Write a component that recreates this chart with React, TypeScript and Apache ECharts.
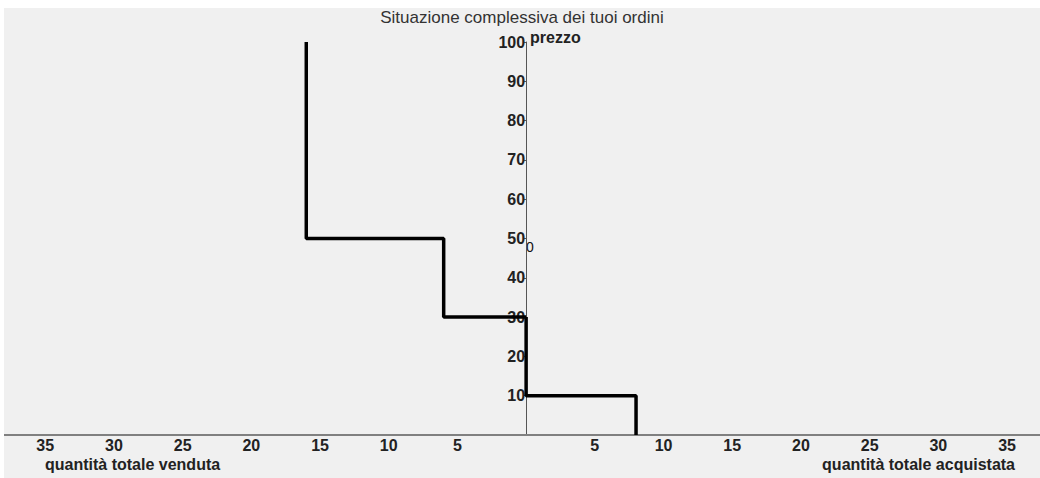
import React, { useEffect, useRef } from "react";
import * as echarts from "echarts";

const sellQuantities = [-16, -16, -6, -6, 0];
const sellPrices = [100, 50, 50, 30, 30];
const buyQuantities = [0, 0, 8, 8];
const buyPrices = [30, 10, 10, 0];
const xTickValues = [-35, -30, -25, -20, -15, -10, -5, 5, 10, 15, 20, 25, 30, 35];
const titleText = "Situazione complessiva dei tuoi ordini";
const yName = "prezzo";
const xNameLeft = "quantità totale venduta";
const xNameRight = "quantità totale acquistata";

const FONT = "'Liberation Sans', Arial, sans-serif";
const X_MIN = -38;
const X_MAX = 37.4;
const CHART_W = 1036;

export default function App() {
  const ref = useRef<HTMLDivElement>(null);
  useEffect(() => {
    if (!ref.current) return;
    const chart = echarts.init(ref.current, null, { renderer: "svg" });
    const sell = sellQuantities.map((q, i) => [q, sellPrices[i]]);
    const buy = buyQuantities.map((q, i) => [q, buyPrices[i]]);
    const zeroOffset = (-X_MIN / (X_MAX - X_MIN)) * CHART_W;
    chart.setOption({
      animation: false,
      backgroundColor: "#f0f0f0",
      grid: { left: 0, right: 0, top: 34, bottom: 43, containLabel: false, outerBoundsMode: "none" },
      xAxis: {
        type: "value",
        min: X_MIN,
        max: X_MAX,
        axisLine: { show: true, onZero: false, lineStyle: { color: "#808080", width: 2 } },
        axisTick: { show: false },
        splitLine: { show: false },
        axisLabel: {
          customValues: xTickValues,
          formatter: (v: number) => String(Math.abs(v)),
          color: "#222",
          fontFamily: FONT,
          fontSize: 16,
          fontWeight: "bold",
          margin: 2,
        },
      },
      yAxis: {
        type: "value",
        position: "left",
        offset: -zeroOffset,
        min: 0,
        max: 100,
        interval: 10,
        axisLine: { show: true, onZero: false, lineStyle: { color: "#555", width: 1 } },
        axisTick: { show: true, length: 2, lineStyle: { color: "#555" } },
        splitLine: { show: false },
        axisLabel: {
          showMinLabel: false,
          formatter: (v: number) => (v === 0 ? "" : String(v)),
          color: "#222",
          fontFamily: FONT,
          fontSize: 16,
          fontWeight: "bold",
          margin: 1,
        },
      },
      series: [
        {
          type: "line",
          data: sell,
          symbol: "none",
          lineStyle: { color: "#000", width: 3.5 },
        },
        {
          type: "line",
          data: buy,
          symbol: "none",
          lineStyle: { color: "#000", width: 3.5 },
        },
      ],
      graphic: [
        {
          type: "text",
          x: 518,
          y: 9,
          style: { text: titleText, fill: "#333", font: `17px ${FONT}`, align: "center", verticalAlign: "middle" },
        },
        {
          type: "text",
          x: 526,
          y: 29,
          style: { text: yName, fill: "#222", font: `bold 16px ${FONT}`, verticalAlign: "middle" },
        },
        {
          type: "text",
          x: 41,
          y: 456,
          style: { text: xNameLeft, fill: "#222", font: `bold 16px ${FONT}`, verticalAlign: "middle" },
        },
        {
          type: "text",
          x: 1011,
          y: 456,
          style: { text: xNameRight, fill: "#222", font: `bold 16px ${FONT}`, verticalAlign: "middle", align: "right" },
        },
        {
          type: "text",
          x: 522,
          y: 239,
          style: { text: "0", fill: "#111", font: `14px ${FONT}`, verticalAlign: "middle" },
        },
      ],
    });
    return () => chart.dispose();
  }, []);
  return (
    <div style={{ position: "absolute", left: 0, top: 0, width: 1040, height: 478, background: "#fff" }}>
      <div ref={ref} style={{ position: "absolute", left: 4, top: 8, width: CHART_W, height: 470 }} />
    </div>
  );
}
